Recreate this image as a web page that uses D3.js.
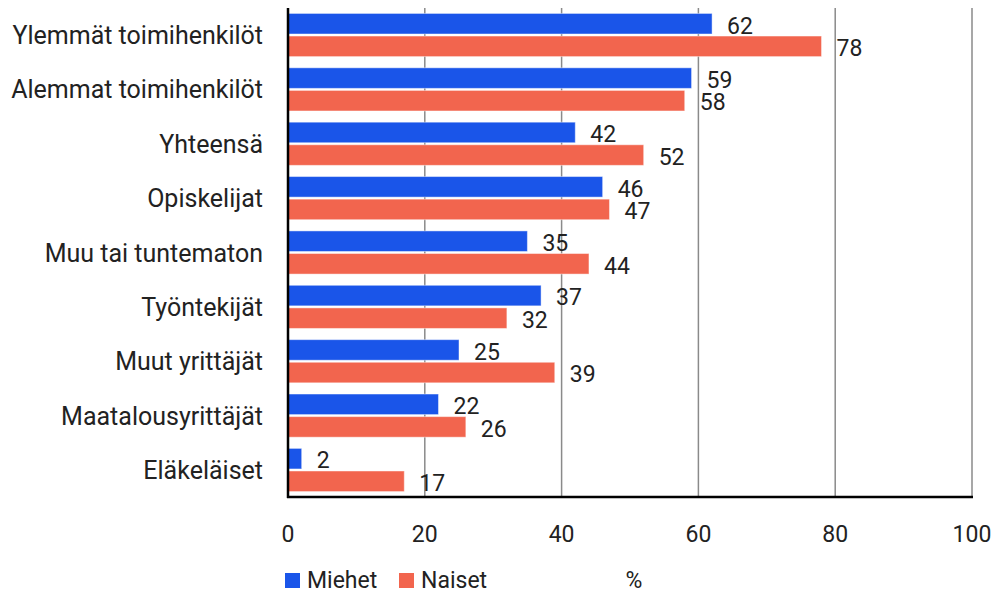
<!DOCTYPE html>
<html>
<head>
<meta charset="utf-8">
<script src="https://cdn.jsdelivr.net/npm/d3@7"></script>
<style>
  body { margin: 0; background: #fff; }
  text { font-family: Roboto, "Open Sans", sans-serif; fill: #222; }
</style>
</head>
<body>
<div id="container"></div>
<script>
var categories = ["Ylemmät toimihenkilöt", "Alemmat toimihenkilöt", "Yhteensä", "Opiskelijat",
  "Muu tai tuntematon", "Työntekijät", "Muut yrittäjät", "Maatalousyrittäjät", "Eläkeläiset"];
var seriesNames = ["Miehet", "Naiset"];
var miehet = [62, 59, 42, 46, 35, 37, 25, 22, 2];
var naiset = [78, 58, 52, 47, 44, 32, 39, 26, 17];
var xTicks = [0, 20, 40, 60, 80, 100];
var unitLabel = "%";

var colors = { Miehet: "#1a55e9", Naiset: "#f2654e" };

var width = 1000, height = 594;
var fontSize = 23;
var catFontSize = 25;

var svg = d3.select("#container")
  .append("svg")
    .attr("width", width)
    .attr("height", height);

var x = d3.scaleLinear().domain([0, 100]).range([288, 972]);
var y = d3.scaleBand().domain(categories).range([8, 497])
  .paddingInner(0.206).paddingOuter(0.1);
var ySub = d3.scaleBand().domain(seriesNames).range([0, y.bandwidth()]).paddingInner(0.09);

var rows = categories.map(function(c, i) {
  return { cat: c, values: [{ name: "Miehet", v: miehet[i] }, { name: "Naiset", v: naiset[i] }] };
});

// gridlines
svg.append("g").selectAll("line")
    .data(xTicks.filter(function(t) { return t > 0; }))
  .enter().append("line")
    .attr("x1", function(d) { return x(d); })
    .attr("x2", function(d) { return x(d); })
    .attr("y1", 8)
    .attr("y2", 497)
    .attr("stroke", "#8a8a8a")
    .attr("stroke-width", 1.5);

// bars
var groups = svg.append("g").selectAll("g")
    .data(rows)
  .enter().append("g")
    .attr("transform", function(d) { return "translate(0," + y(d.cat) + ")"; });

groups.selectAll("rect")
    .data(function(d) { return d.values; })
  .enter().append("rect")
    .attr("x", x(0))
    .attr("y", function(d) { return ySub(d.name); })
    .attr("width", function(d) { return x(d.v) - x(0); })
    .attr("height", ySub.bandwidth())
    .attr("fill", function(d) { return colors[d.name]; })
    .attr("stroke", "#fff")
    .attr("stroke-opacity", 0.45)
    .attr("stroke-width", 1);

groups.selectAll("text.val")
    .data(function(d) { return d.values; })
  .enter().append("text")
    .attr("class", "val")
    .attr("x", function(d) { return x(d.v) + 15; })
    .attr("y", function(d) { return ySub(d.name) + ySub.bandwidth() - 0.5; })
    .style("font-size", fontSize + "px")
    .text(function(d) { return d.v; });

// category labels
svg.append("g").selectAll("text")
    .data(categories)
  .enter().append("text")
    .attr("x", 263)
    .attr("y", function(d) { return y(d) + y.bandwidth() / 2; })
    .attr("dy", "0.36em")
    .attr("text-anchor", "end")
    .style("font-size", catFontSize + "px")
    .text(function(d) { return d; });

// axes lines
svg.append("line")
  .attr("x1", x(0)).attr("x2", x(0))
  .attr("y1", 8).attr("y2", 498)
  .attr("stroke", "#000").attr("stroke-width", 2.5);

svg.append("line")
  .attr("x1", x(0) - 1).attr("x2", x(100) + 1)
  .attr("y1", 497).attr("y2", 497)
  .attr("stroke", "#000").attr("stroke-width", 2.5);

// x tick labels
svg.append("g").selectAll("text")
    .data(xTicks)
  .enter().append("text")
    .attr("x", function(d) { return x(d); })
    .attr("y", 542)
    .attr("text-anchor", "middle")
    .style("font-size", fontSize + "px")
    .text(function(d) { return d; });

// legend
var legendX = [285, 399];
var legend = svg.append("g").selectAll("g")
    .data(seriesNames)
  .enter().append("g")
    .attr("transform", function(d, i) { return "translate(" + legendX[i] + ",573)"; });

legend.append("rect")
  .attr("width", 15)
  .attr("height", 15)
  .attr("fill", function(d) { return colors[d]; });

legend.append("text")
  .attr("x", 22)
  .attr("y", 15)
  .style("font-size", fontSize + "px")
  .text(function(d) { return d; });

svg.append("text")
  .attr("x", 634)
  .attr("y", 588)
  .attr("text-anchor", "middle")
  .style("font-size", fontSize + "px")
  .text(unitLabel);
</script>
</body>
</html>
